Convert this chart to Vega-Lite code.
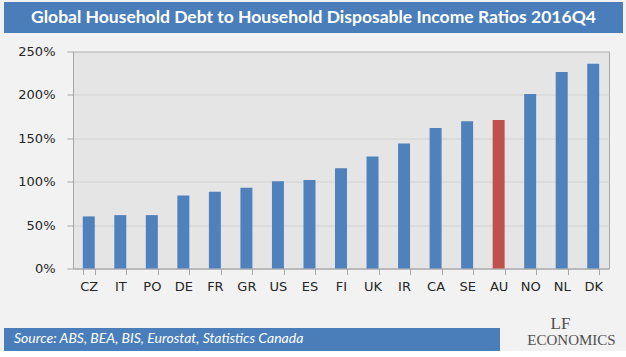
{
  "$schema": "https://vega.github.io/schema/vega-lite/v6.json",
  "background": "#f2f2f2",
  "padding": {"left": 4, "top": 2, "right": 3, "bottom": 0},
  "config": {"font": "DejaVu Sans", "view": {"stroke": null}},
  "spacing": 11.5,
  "vconcat": [
    {
      "width": 619,
      "height": 31,
      "view": {"fill": "#4a7ebb", "stroke": null},
      "data": {"values": [{"title": "Global Household Debt to Household Disposable Income Ratios 2016Q4"}]},
      "mark": {"type": "text", "font": "Lato", "fontSize": 17.5, "fontWeight": "bold", "color": "white"},
      "encoding": {"text": {"field": "title"}}
    },
    {
      "spacing": 19.5,
      "vconcat": [
        {
          "spacing": 0,
          "hconcat": [
            {
              "width": 13,
              "height": 10,
              "view": {"fill": "#f2f2f2", "stroke": null},
              "data": {"values": []},
              "mark": {"type": "point"},
              "encoding": {}
            },
            {
              "width": 536,
              "height": 217,
              "view": {"fill": "#e5e5e5", "stroke": "#a6a6a6", "strokeWidth": 1},
              "data": {
                "values": [
                  {"country": "CZ", "ratio": 0.60},
                  {"country": "IT", "ratio": 0.615},
                  {"country": "PO", "ratio": 0.615},
                  {"country": "DE", "ratio": 0.84},
                  {"country": "FR", "ratio": 0.885},
                  {"country": "GR", "ratio": 0.93},
                  {"country": "US", "ratio": 1.005},
                  {"country": "ES", "ratio": 1.02},
                  {"country": "FI", "ratio": 1.155},
                  {"country": "UK", "ratio": 1.29},
                  {"country": "IR", "ratio": 1.44},
                  {"country": "CA", "ratio": 1.62},
                  {"country": "SE", "ratio": 1.695},
                  {"country": "AU", "ratio": 1.71},
                  {"country": "NO", "ratio": 2.01},
                  {"country": "NL", "ratio": 2.265},
                  {"country": "DK", "ratio": 2.36}
                ]
              },
              "mark": {"type": "bar"},
              "encoding": {
                "x": {
                  "field": "country",
                  "type": "nominal",
                  "sort": null,
                  "scale": {"paddingInner": 0.62, "paddingOuter": 0.31},
                  "axis": {
                    "title": null,
                    "labelAngle": 0,
                    "tickBand": "extent",
                    "tickSize": 6,
                    "tickColor": "#a6a6a6",
                    "domainColor": "#a6a6a6",
                    "labelPadding": 6,
                    "labelFontSize": 13,
                    "labelColor": "#262626",
                    "grid": false
                  }
                },
                "y": {
                  "field": "ratio",
                  "type": "quantitative",
                  "scale": {"domain": [0, 2.5]},
                  "axis": {
                    "title": null,
                    "format": ".0%",
                    "values": [0, 0.5, 1, 1.5, 2, 2.5],
                    "tickSize": 6,
                    "tickColor": "#a6a6a6",
                    "domainColor": "#a6a6a6",
                    "gridColor": "#d2d2d2",
                    "labelPadding": 12,
                    "labelFontSize": 13,
                    "labelColor": "#262626"
                  }
                },
                "color": {
                  "condition": {"test": "datum.country === 'AU'", "value": "#c0504d"},
                  "value": "#4f81bd"
                }
              }
            }
          ]
        },
        {
          "bounds": "flush",
          "spacing": 0,
          "hconcat": [
            {
              "width": 496,
              "height": 23,
              "view": {"fill": "#4a7ebb", "stroke": null},
              "title": {
                "text": "Source: ABS, BEA, BIS, Eurostat, Statistics Canada",
                "anchor": "start",
                "orient": "top",
                "frame": "group",
                "offset": -18,
                "dx": 10,
                "font": "Lato",
                "fontSize": 14,
                "fontStyle": "italic",
                "fontWeight": "normal",
                "color": "white"
              },
              "data": {"values": []},
              "mark": {"type": "text"},
              "encoding": {}
            },
            {
              "width": 123,
              "height": 23,
              "view": {"fill": "#f2f2f2", "stroke": null},
              "data": {"values": [{"a": "LF", "b": "ECONOMICS"}]},
              "layer": [
                {
                  "mark": {"type": "text", "font": "Liberation Serif", "fontSize": 15, "color": "#505050", "dx": 10},
                  "encoding": {"text": {"field": "b"}}
                },
                {
                  "mark": {"type": "text", "font": "Liberation Serif", "fontSize": 17, "color": "#505050", "dx": -1, "dy": -16},
                  "encoding": {"text": {"field": "a"}}
                }
              ]
            }
          ]
        }
      ]
    }
  ]
}
